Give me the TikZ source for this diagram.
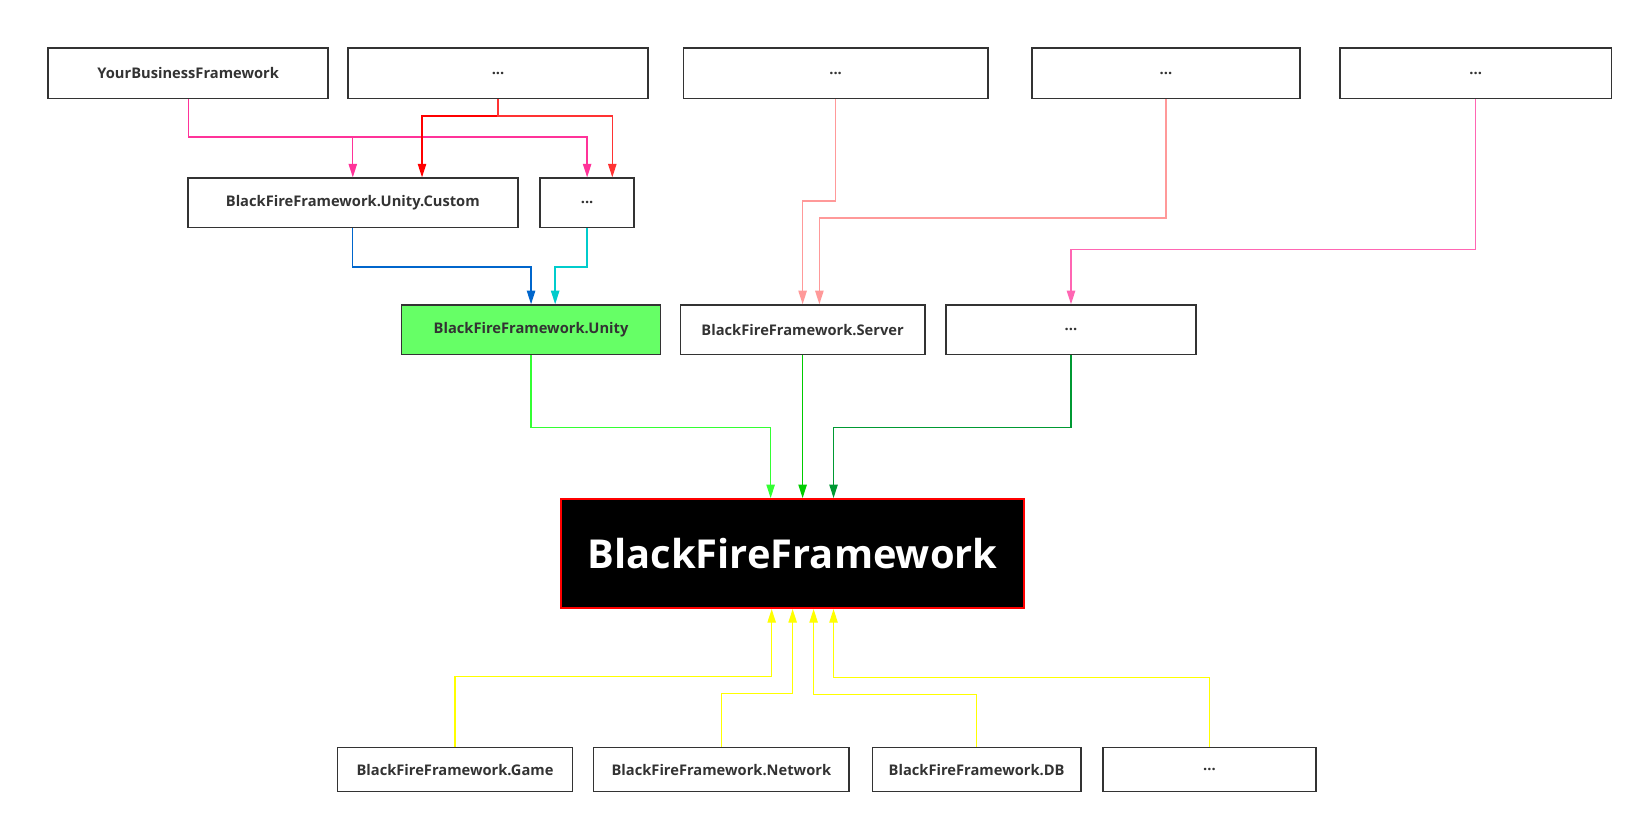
\documentclass[tikz,border=0pt]{standalone}
\usepackage{fontspec}
\setmainfont{Open Sans}
\usetikzlibrary{arrows.meta,positioning}
\definecolor{boxgray}{HTML}{333333}
\definecolor{unitygreen}{HTML}{66FF66}
\definecolor{linkpink}{HTML}{FF3399}
\definecolor{linkred}{HTML}{FF0000}
\definecolor{linkredlight}{HTML}{FF3333}
\definecolor{linkblue}{HTML}{0066CC}
\definecolor{linkcyan}{HTML}{00CCCC}
\definecolor{linksalmon}{HTML}{FF9999}
\definecolor{linkrose}{HTML}{FF66B3}
\definecolor{linklime}{HTML}{33FF33}
\definecolor{linkgreen}{HTML}{00CC00}
\definecolor{linkdkgreen}{HTML}{009933}
\definecolor{linkyellow}{HTML}{FFFF00}

\begin{document}
\begin{tikzpicture}[
        x=1pt, y=-1pt,
        font=\fontsize{14}{16}\selectfont\bfseries,
        box/.style={rectangle, draw=boxgray, line width=1.6pt, text=boxgray, minimum height=48pt, inner sep=2pt, align=center},
        core/.style={rectangle, draw=red, fill=black, line width=1.8pt, text=white, minimum width=442pt, minimum height=104pt, font=\fontsize{38}{42}\selectfont\bfseries},
        link/.style={-{Triangle[length=13pt,width=8pt]}, line width=1.3pt}
    ]
        \useasboundingbox (0,0) rectangle (1568,786);

        % top row
        \node[box, minimum width=267pt] (ybf) at (179.5,70) {YourBusinessFramework};
        \node[box, minimum width=286pt] (top1) at (475,70) {...};
        \node[box, minimum width=290pt] (top2) at (797,70) {...};
        \node[box, minimum width=256pt] (top3) at (1112,70) {...};
        \node[box, minimum width=259pt] (top4) at (1407.5,70) {...};

        % unity extensions
        \node[box, minimum width=315pt, minimum height=47pt] (custom) at (336.5,193.5) {BlackFireFramework.Unity.Custom};
        \node[box, minimum width=90pt, minimum height=47pt] (custom2) at (560,193.5) {...};

        % platforms
        \node[box, fill=unitygreen, minimum width=247pt, minimum height=47pt] (unity) at (506.5,314.5) {BlackFireFramework.Unity};
        \node[box, minimum width=233pt, minimum height=47pt] (server) at (765.5,314.5) {BlackFireFramework.Server};
        \node[box, minimum width=239pt, minimum height=47pt] (plat) at (1021.5,314.5) {...};

        \node[core] (bff) at (756,528) {BlackFireFramework};

        % modules
        \node[box, minimum width=224pt, minimum height=42pt] (game) at (434,734) {BlackFireFramework.Game};
        \node[box, minimum width=244pt, minimum height=42pt] (network) at (688,734) {BlackFireFramework.Network};
        \node[box, minimum width=199pt, minimum height=42pt] (db) at (931.5,734) {BlackFireFramework.DB};
        \node[box, minimum width=203pt, minimum height=42pt] (more) at (1153.5,734) {...};

        \draw[link, linkpink] (ybf.south) -- ++(0,36) -| (custom.north);
        \draw[link, linkpink] (ybf.south) -- ++(0,36) -| (custom2.north);
        \draw[link, linkred] (top1.south) -- ++(0,16) -| ([xshift=66pt]custom.north);
        \draw[link, linkredlight] (top1.south) -- ++(0,16) -| ([xshift=24pt]custom2.north);

        \draw[link, linkblue] (custom.south) -- ++(0,37) -| (unity.north);
        \draw[link, linkcyan] (custom2.south) -- ++(0,37) -| ([xshift=23pt]unity.north);

        \draw[link, linksalmon] (top2.south) -- ++(0,97) -| (server.north);
        \draw[link, linksalmon] (top3.south) -- ++(0,113) -| ([xshift=16pt]server.north);
        \draw[link, linkrose] (top4.south) -- ++(0,143) -| (plat.north);

        \draw[link, linklime] (unity.south) -- ++(0,69) -| ([xshift=-21pt]bff.north);
        \draw[link, linkgreen] (server.south) -- (server.south |- bff.north);
        \draw[link, linkdkgreen] (plat.south) -- ++(0,69) -| ([xshift=39pt]bff.north);

        \foreach \src/\dx/\up in {game/-20/67, network/0/51, db/20/50, more/39/66} {
            \draw[link, linkyellow] (\src.north) -- ++(0,-\up) -| ([xshift=\dx pt]bff.south);
        }
    \end{tikzpicture}
\end{document}
